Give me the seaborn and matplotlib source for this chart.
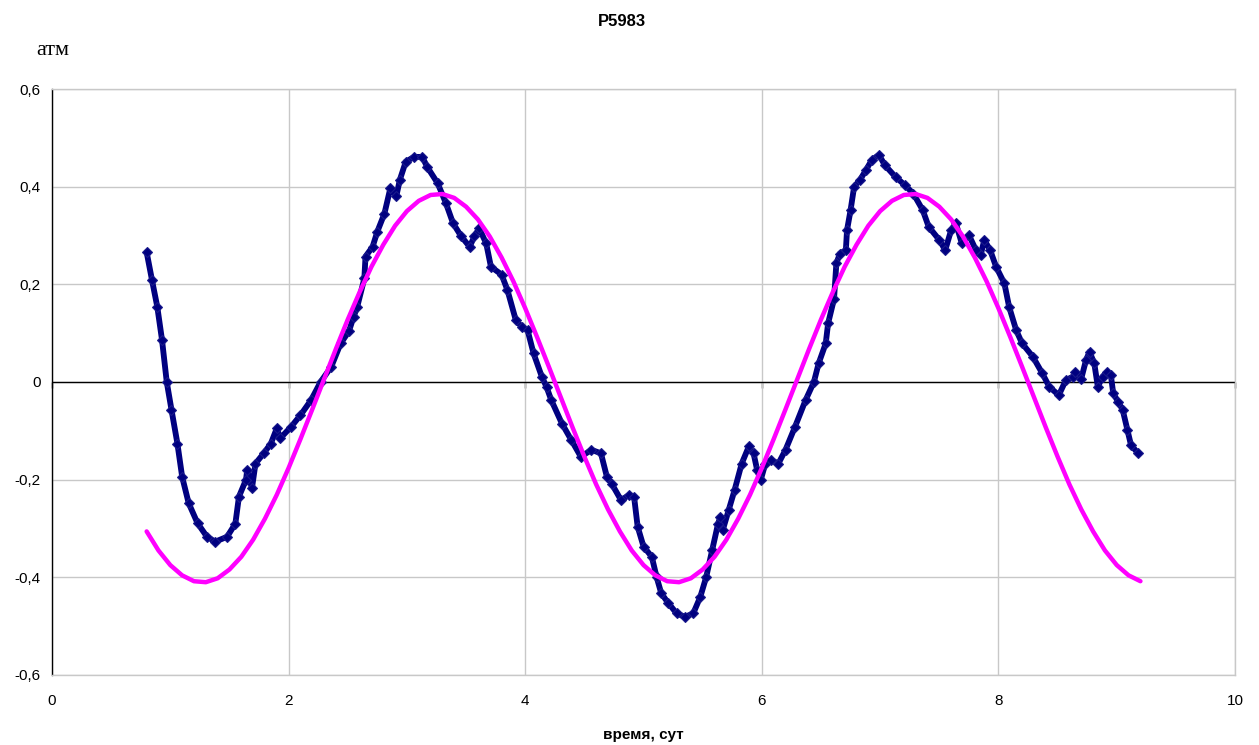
import matplotlib.pyplot as plt
import pandas as pd
import seaborn as sns

# measured pressure (navy markers)
meas_t = [0.80, 0.845, 0.89, 0.93, 0.97, 1.01, 1.06, 1.10, 1.155, 1.23,
          1.31, 1.38, 1.48, 1.55, 1.58, 1.64, 1.65, 1.69, 1.72, 1.79,
          1.85, 1.90, 1.93, 2.02, 2.10, 2.19, 2.27, 2.36, 2.44, 2.51,
          2.55, 2.58, 2.64, 2.65, 2.71, 2.75, 2.81, 2.86, 2.91, 2.94,
          2.99, 3.06, 3.13, 3.17, 3.26, 3.33, 3.39, 3.46, 3.53, 3.57,
          3.61, 3.67, 3.71, 3.80, 3.85, 3.92, 3.97, 4.02, 4.07, 4.14,
          4.18, 4.22, 4.31, 4.39, 4.47, 4.56, 4.64, 4.69, 4.73, 4.81,
          4.88, 4.92, 4.95, 5.00, 5.07, 5.11, 5.15, 5.21, 5.28, 5.35,
          5.42, 5.48, 5.53, 5.58, 5.63, 5.65, 5.67, 5.72, 5.77, 5.83,
          5.89, 5.93, 5.96, 5.99, 6.03, 6.08, 6.14, 6.20, 6.28, 6.37,
          6.44, 6.48, 6.54, 6.56, 6.61, 6.63, 6.66, 6.71, 6.72, 6.75,
          6.78, 6.83, 6.88, 6.93, 6.99, 7.04, 7.13, 7.21, 7.28, 7.36,
          7.41, 7.50, 7.55, 7.60, 7.64, 7.69, 7.75, 7.81, 7.85, 7.88,
          7.93, 7.98, 8.05, 8.09, 8.15, 8.20, 8.29, 8.37, 8.43, 8.51,
          8.57, 8.63, 8.65, 8.70, 8.74, 8.77, 8.81, 8.84, 8.88, 8.92,
          8.95, 8.97, 9.01, 9.05, 9.09, 9.12, 9.18]
meas_p = [0.266, 0.209, 0.154, 0.086, 0.000, -0.057, -0.126, -0.194, -0.248, -0.289,
          -0.317, -0.327, -0.317, -0.290, -0.235, -0.200, -0.180, -0.218, -0.167, -0.146,
          -0.126, -0.095, -0.115, -0.092, -0.068, -0.037, 0.000, 0.031, 0.079, 0.104,
          0.134, 0.154, 0.212, 0.257, 0.277, 0.308, 0.345, 0.397, 0.380, 0.414,
          0.451, 0.461, 0.461, 0.441, 0.407, 0.366, 0.325, 0.298, 0.277, 0.298,
          0.315, 0.284, 0.236, 0.220, 0.188, 0.127, 0.113, 0.106, 0.059, 0.011,
          -0.010, -0.037, -0.085, -0.119, -0.153, -0.139, -0.146, -0.194, -0.208, -0.242,
          -0.231, -0.235, -0.296, -0.337, -0.358, -0.399, -0.433, -0.453, -0.474, -0.481,
          -0.474, -0.440, -0.399, -0.344, -0.290, -0.276, -0.303, -0.262, -0.221, -0.167,
          -0.132, -0.146, -0.180, -0.201, -0.167, -0.160, -0.167, -0.139, -0.092, -0.037,
          0.000, 0.038, 0.079, 0.120, 0.170, 0.243, 0.263, 0.270, 0.311, 0.352,
          0.400, 0.414, 0.434, 0.455, 0.465, 0.444, 0.420, 0.403, 0.386, 0.352,
          0.318, 0.291, 0.270, 0.311, 0.325, 0.284, 0.301, 0.270, 0.260, 0.291,
          0.270, 0.236, 0.202, 0.154, 0.106, 0.079, 0.052, 0.018, -0.010, -0.027,
          0.004, 0.011, 0.021, 0.007, 0.045, 0.062, 0.038, -0.010, 0.011, 0.021,
          0.014, -0.023, -0.040, -0.057, -0.098, -0.129, -0.146]

# fitted curve (magenta), read every 0.1 day
fit_t = [round(0.8 + 0.1 * i, 1) for i in range(85)]
fit_p = [-0.306, -0.345, -0.375, -0.396, -0.408, -0.410, -0.402, -0.384, -0.358, -0.323,
         -0.280, -0.231, -0.176, -0.117, -0.056, 0.006, 0.068, 0.128, 0.184, 0.236,
         0.281, 0.320, 0.350, 0.371, 0.383, 0.385, 0.377, 0.359, 0.333, 0.298,
         0.255, 0.206, 0.151, 0.092, 0.031, -0.031, -0.093, -0.153, -0.210, -0.261,
         -0.306, -0.345, -0.375, -0.396, -0.408, -0.410, -0.402, -0.384, -0.358, -0.323,
         -0.280, -0.231, -0.176, -0.117, -0.056, 0.006, 0.068, 0.128, 0.184, 0.236,
         0.281, 0.320, 0.350, 0.371, 0.383, 0.385, 0.377, 0.359, 0.333, 0.298,
         0.255, 0.206, 0.151, 0.092, 0.031, -0.031, -0.093, -0.153, -0.210, -0.261,
         -0.306, -0.345, -0.375, -0.396, -0.408]

x_ticks = [0, 2, 4, 6, 8, 10]
y_ticks = [-0.6, -0.4, -0.2, 0, 0.2, 0.4, 0.6]

meas = pd.DataFrame({"t": meas_t, "p": meas_p})
fit = pd.DataFrame({"t": fit_t, "p": fit_p})

sns.set_theme(style="whitegrid")
plt.rcParams["font.family"] = ["Liberation Sans", "DejaVu Sans"]

fig = plt.figure(figsize=(12.59, 7.45), dpi=100)
ax = fig.add_axes([0.0413, 0.094, 0.9397, 0.7865])

sns.lineplot(data=meas, x="t", y="p", color="#000080", linewidth=4.2,
             marker="D", markersize=5, markeredgewidth=0.8,
             markeredgecolor="#1a1a8c", ax=ax)
sns.lineplot(data=fit, x="t", y="p", color="#ff00ff", linewidth=3.2, ax=ax)

ax.set_xlim(0, 10)
ax.set_ylim(-0.6, 0.6)
ax.set_xticks(x_ticks)
ax.set_yticks(y_ticks)
ax.set_xticklabels([str(v) for v in x_ticks], fontsize=11)
ax.set_yticklabels([f"{v:.1f}".replace(".", ",") if v != 0 else "0" for v in y_ticks],
                   fontsize=11)
ax.grid(True, color="#c8c8c8", linewidth=1)
ax.tick_params(axis="x", length=0, pad=14, labelcolor="black")
ax.tick_params(axis="y", length=4, width=1, direction="out", color="black", pad=4,
               labelcolor="black")
for side in ["top", "right", "bottom"]:
    ax.spines[side].set_color("#c8c8c8")
    ax.spines[side].set_linewidth(1)
ax.spines["left"].set_color("black")
ax.spines["left"].set_linewidth(1)

# zero axis with small tick marks below it
ax.axhline(0, color="black", linewidth=1, zorder=1.5)
sec = ax.secondary_xaxis(0.5)
sec.set_xticks(x_ticks)
sec.set_xticklabels([""] * len(x_ticks))
sec.xaxis.set_ticks_position("bottom")
sec.tick_params(axis="x", which="major", length=4, width=1, color="black",
                direction="out")
for side in ["top", "bottom"]:
    sec.spines[side].set_visible(False)

ax.set_xlabel("время, сут", fontsize=11, fontweight="bold", labelpad=14, color="black")
ax.set_ylabel("")
fig.text(0.494, 0.971, "P5983", ha="center", va="center", fontsize=12,
         fontweight="bold", color="black")
fig.text(0.029, 0.932, "атм", ha="left", va="center", fontsize=16, color="black",
         family=["Liberation Serif", "DejaVu Serif"])

plt.savefig("out.png", dpi=100)
plt.close()
